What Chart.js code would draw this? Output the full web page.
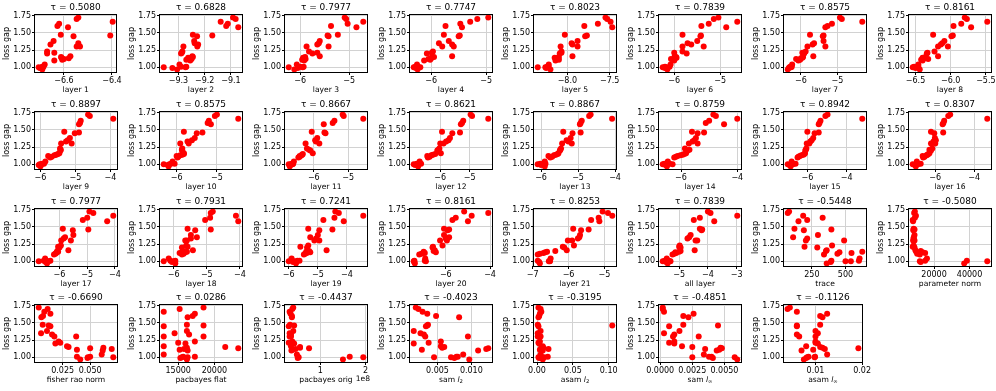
<!DOCTYPE html>
<html>
<head>
<meta charset="utf-8">
<script src="https://cdn.jsdelivr.net/npm/chart.js@4.4.0/dist/chart.umd.min.js"></script>
<style>
  html, body { margin: 0; padding: 0; background: #fff; }
  #wrap { position: relative; width: 996px; height: 391px; overflow: hidden; }
  #wrap canvas { position: absolute; }
</style>
</head>
<body>
<div id="wrap"></div>
<script>
// loss gap of each trained model (same models in every panel, same order)
const lossGap = [0.97, 0.99, 1.00, 1.00, 1.01, 1.01, 1.04, 1.10, 1.11, 1.12, 1.13, 1.14, 1.15, 1.16, 1.20, 1.21, 1.23, 1.30, 1.30, 1.33, 1.35, 1.38, 1.45, 1.46, 1.47, 1.58, 1.60, 1.63, 1.66, 1.70, 1.72];

// measure values, one per model
const layer1 = [-6.69, -6.70, -6.705, -6.69, -6.69, -6.685, -6.68, -6.64, -6.607, -6.60, -6.58, -6.61, -6.612, -6.573, -6.67, -6.64, -6.67, -6.533, -6.547, -6.656, -6.54, -6.643, -6.56, -6.407, -6.613, -6.583, -6.627, -6.62, -6.397, -6.547, -6.54];
const layer2 = [-9.305, -9.323, -9.356, -9.273, -9.27, -9.29, -9.296, -9.255, -9.27, -9.25, -9.26, -9.263, -9.245, -9.247, -9.29, -9.287, -9.285, -9.281, -9.228, -9.225, -9.238, -9.24, -9.229, -9.171, -9.245, -9.072, -9.118, -9.112, -9.139, -9.082, -9.092];
const layer3 = [-6.12, -6.05, -6.235, -5.95, -6.0, -5.93, -6.07, -5.92, -5.96, -5.89, -5.93, -5.94, -5.9, -5.6, -5.75, -5.65, -5.82, -5.87, -5.42, -5.65, -5.62, -5.6, -5.42, -5.44, -5.23, -4.85, -5.37, -5.03, -4.71, -5.06, -5.09];
const layer4 = [-6.25, -6.28, -6.32, -6.2, -6.29, -6.24, -6.26, -6.13, -6.02, -6.05, -6.0, -6.0, -5.95, -5.62, -6.08, -5.99, -5.97, -5.8, -5.59, -5.62, -5.86, -5.68, -5.5, -5.48, -5.77, -5.44, -5.74, -5.47, -5.29, -5.16, -4.96];
const layer5 = [-8.2, -8.25, -8.35, -8.26, -8.24, -8.22, -8.22, -8.14, -8.1, -8.12, -8.13, -8.15, -8.1, -7.94, -8.09, -8.07, -8.07, -8.08, -7.88, -7.94, -7.95, -7.88, -7.79, -7.77, -8.03, -7.47, -7.8, -7.64, -7.49, -7.53, -7.55];
const layer6 = [-6.15, -6.2, -6.25, -6.18, -6.1, -6.2, -6.08, -6.0, -6.03, -6.07, -5.98, -5.95, -5.96, -5.99, -5.73, -6.0, -5.82, -5.82, -5.36, -5.63, -5.71, -5.5, -5.43, -5.42, -5.82, -4.87, -5.41, -5.25, -4.63, -5.14, -5.04];
const layer7 = [-6.36, -6.33, -6.31, -6.27, -6.29, -6.25, -6.24, -6.07, -6.02, -6.13, -6.0, -5.96, -5.94, -5.66, -5.91, -5.96, -5.87, -5.82, -5.33, -5.68, -5.64, -5.38, -5.4, -5.38, -5.75, -5.33, -5.27, -5.15, -4.32, -4.88, -4.93];
const layer8 = [-6.44, -6.5, -6.54, -6.48, -6.52, -6.46, -6.46, -6.4, -6.42, -6.32, -6.36, -6.4, -6.36, -6.18, -6.34, -6.33, -6.23, -6.18, -6.04, -6.14, -6.12, -6.09, -5.99, -5.97, -6.25, -5.71, -5.96, -5.85, -5.48, -5.77, -5.8];
const layer9 = [-6.0, -6.05, -6.02, -5.98, -5.95, -5.9, -5.86, -5.72, -5.68, -5.78, -5.6, -5.55, -5.5, -5.46, -5.43, -5.42, -5.44, -5.41, -5.11, -5.27, -5.22, -5.16, -5.02, -4.9, -5.32, -4.9, -4.87, -4.85, -3.92, -4.59, -4.64];
const layer10 = [-6.2, -6.22, -6.32, -6.18, -6.14, -6.05, -6.1, -5.98, -5.96, -6.0, -5.91, -5.86, -5.82, -5.82, -5.86, -5.87, -5.86, -5.91, -5.7, -5.73, -5.62, -5.55, -5.5, -5.36, -5.82, -5.15, -5.23, -5.2, -4.47, -5.05, -5.0];
const layer11 = [-6.7, -6.68, -6.73, -6.62, -6.65, -6.6, -6.58, -6.45, -6.41, -6.41, -6.36, -6.34, -6.32, -6.03, -6.1, -6.14, -6.2, -6.24, -5.84, -5.94, -5.96, -5.9, -5.66, -5.69, -6.06, -5.71, -5.45, -5.4, -4.56, -5.13, -5.16];
const layer12 = [-6.75, -6.85, -6.9, -6.75, -6.8, -6.65, -6.7, -6.42, -6.36, -6.44, -6.3, -6.25, -6.17, -5.98, -6.1, -6.06, -6.03, -6.0, -5.89, -5.8, -5.72, -5.67, -5.59, -5.33, -5.94, -5.3, -5.26, -5.22, -4.37, -4.92, -4.97];
const layer13 = [-5.9, -6.0, -6.09, -5.95, -6.02, -5.88, -5.9, -5.75, -5.7, -5.8, -5.65, -5.6, -5.55, -5.53, -5.49, -5.48, -5.46, -5.43, -5.17, -5.26, -5.31, -5.2, -5.15, -4.93, -5.4, -4.95, -4.93, -4.9, -4.08, -4.7, -4.66];
const layer14 = [-6.5, -6.55, -6.65, -6.3, -6.59, -6.4, -6.47, -6.24, -6.18, -6.12, -6.02, -5.94, -5.88, -5.82, -5.76, -5.7, -5.86, -5.72, -5.41, -5.59, -5.53, -5.47, -5.41, -5.18, -5.61, -4.47, -5.12, -5.0, -4.0, -4.76, -4.85];
const layer15 = [-6.85, -6.9, -7.0, -6.75, -6.6, -6.7, -6.8, -6.5, -6.45, -6.38, -6.3, -6.2, -6.15, -6.12, -6.1, -6.08, -6.05, -6.03, -5.9, -5.85, -5.78, -5.7, -5.63, -5.42, -6.0, -5.42, -5.38, -5.33, -3.2, -5.08, -4.97];
const layer16 = [-7.0, -7.05, -7.16, -6.9, -6.75, -6.85, -6.95, -6.62, -6.55, -6.65, -6.45, -6.4, -6.35, -6.3, -6.22, -6.3, -6.15, -6.22, -6.0, -6.09, -5.97, -6.02, -6.05, -5.59, -6.22, -5.62, -5.58, -5.54, -3.32, -5.33, -5.23];
const layer17 = [-6.45, -6.5, -6.75, -6.4, -6.57, -6.33, -6.52, -6.2, -6.15, -6.12, -6.1, -6.05, -6.08, -5.68, -6.0, -6.05, -5.95, -5.94, -5.59, -5.85, -5.8, -5.5, -5.52, -4.96, -5.88, -4.28, -5.16, -5.0, -4.06, -4.78, -4.92];
const layer18 = [-5.95, -6.05, -6.3, -6.0, -6.1, -5.95, -6.15, -5.75, -5.7, -5.82, -5.65, -5.6, -5.72, -5.42, -5.75, -5.58, -5.62, -5.65, -5.6, -5.48, -5.3, -5.48, -5.35, -4.88, -5.58, -4.05, -5.05, -4.9, -4.12, -4.88, -4.82];
const layer19 = [-5.75, -5.85, -6.0, -5.8, -5.7, -5.63, -5.9, -5.48, -5.44, -5.38, -5.26, -5.4, -5.3, -4.7, -5.37, -5.6, -5.33, -5.12, -4.95, -5.06, -5.26, -5.0, -4.95, -4.5, -5.33, -4.11, -4.81, -4.43, -3.44, -4.28, -4.4];
const layer20 = [-7.4, -7.42, -7.45, -6.9, -7.42, -6.95, -6.93, -7.2, -7.1, -6.95, -6.45, -7.0, -6.55, -6.5, -6.6, -6.58, -6.15, -6.26, -5.95, -6.0, -5.85, -6.08, -5.92, -5.85, -6.08, -5.0, -5.7, -5.55, -4.83, -4.08, -5.17];
const layer21 = [-6.8, -6.82, -6.55, -6.52, -6.86, -6.52, -6.5, -6.86, -6.8, -6.7, -6.65, -6.6, -6.37, -6.05, -6.12, -6.16, -5.85, -6.02, -5.9, -5.74, -5.7, -5.68, -5.65, -5.44, -5.87, -5.14, -5.37, -5.16, -4.78, -4.9, -5.05];
const allLayer = [-5.4, -5.45, -5.57, -5.3, -5.5, -5.35, -5.43, -5.23, -5.17, -5.1, -5.13, -5.0, -4.95, -4.46, -4.95, -5.0, -4.98, -4.43, -4.37, -4.71, -4.65, -4.6, -4.22, -4.2, -4.28, -3.78, -4.49, -4.28, -2.98, -3.91, -4.0];
const trace = [360, 390, 540, 500, 600, 395, 605, 340, 440, 545, 455, 625, 355, 360, 290, 195, 400, 205, 490, 215, 110, 295, 190, 395, 120, 150, 215, 330, 185, 70, 80];
const paramNorm = [37000, 12500, 50000, 12000, 38500, 15000, 16000, 12000, 10500, 15000, 13500, 10000, 12500, 9500, 9000, 8000, 8500, 9000, 8200, 8500, 8600, 9000, 8300, 9000, 8500, 8200, 8000, 9200, 9800, 8800, 9200];
const fisherRao = [0.041, 0.0476, 0.071, 0.048, 0.038, 0.05, 0.0605, 0.0614, 0.038, 0.0696, 0.05, 0.062, 0.0304, 0.029, 0.0184, 0.0229, 0.0214, 0.0373, 0.0175, 0.0154, 0.0054, 0.0108, 0.0139, 0.0123, 0.0069, 0.0057, 0.0072, 0.0139, 0.0084, 0.0114, 0.0033];
const pacbayesFlat = [16200, 15300, 15500, 16300, 17300, 15700, 13000, 16300, 15200, 15800, 23300, 16200, 21500, 13000, 16000, 15000, 17300, 13000, 18500, 16500, 14500, 16200, 13000, 18500, 16200, 16300, 17000, 17300, 13000, 15200, 18500];
const pacbayesOrig = [1.5, 0.5, 1.95, 0.52, 1.65, 0.5, 0.48, 0.36, 0.38, 0.45, 0.75, 0.55, 0.55, 0.35, 0.42, 0.3, 0.38, 0.35, 0.32, 0.35, 0.32, 0.4, 0.3, 0.42, 0.33, 0.37, 0.37, 0.34, 0.32, 0.38, 0.4]; // x 1e8
const samL2 = [0.0097, 0.0075, 0.0045, 0.007, 0.008, 0.0078, 0.0088, 0.011, 0.0027, 0.0122, 0.0125, 0.0057, 0.006, 0.0055, 0.0015, 0.0037, 0.0055, 0.0032, 0.0095, 0.003, 0.0025, 0.0015, 0.0033, 0.0035, 0.0036, 0.0082, 0.0048, 0.0035, 0.0028, 0.0022, 0.0018];
const asamL2 = [0.008, 0.003, 0.002, 0.01, 0.015, 0.006, 0.005, 0.008, 0.004, 0.016, 0.007, 0.009, 0.006, 0.008, 0.003, 0.002, 0.004, 0.001, 0.005, 0.002, 0.001, 0.005, 0.002, 0.105, 0.001, 0.002, 0.003, 0.004, 0.006, 0.005, 0.002];
const samLinf = [0.006, 0.0041, 0.0025, 0.0058, 0.0038, 0.004, 0.0034, 0.0044, 0.0046, 0.0035, 0.0048, 0.0047, 0.0025, 0.0017, 0.0011, 0.0007, 0.0011, 0.001, 0.003, 0.0011, 0.0003, 0.0015, 0.0007, 0.0045, 0.0018, 0.0022, 0.0018, 0.0026, 0.0003, 0.0002, 0.0002];
const asamLinf = [0.0075, 0.008, 0.0098, 0.0082, 0.0099, 0.0085, 0.0125, 0.007, 0.0095, 0.012, 0.0192, 0.0115, 0.011, 0.008, 0.0105, 0.01, 0.01, 0.0065, 0.01, 0.006, 0.0105, 0.01, 0.006, 0.006, 0.011, 0.0115, 0.011, 0.0125, 0.006, 0.004, 0.0045];

// kendall tau shown in each title
const taus = ['0.5080', '0.6828', '0.7977', '0.7747', '0.8023', '0.7839', '0.8575', '0.8161',
  '0.8897', '0.8575', '0.8667', '0.8621', '0.8867', '0.8759', '0.8942', '0.8307',
  '0.7977', '0.7931', '0.7241', '0.8161', '0.8253', '0.7839', '-0.5448', '-0.5080',
  '-0.6690', '0.0286', '-0.4437', '-0.4023', '-0.3195', '-0.4851', '-0.1126'];

const yTicks = ['1.00', '1.25', '1.50', '1.75'];

const panels = [
  { x: layer1, name: 'layer 1', ticks: ['−6.6', '−6.4'] },
  { x: layer2, name: 'layer 2', ticks: ['−9.3', '−9.2', '−9.1'] },
  { x: layer3, name: 'layer 3', ticks: ['−6', '−5'] },
  { x: layer4, name: 'layer 4', ticks: ['−6', '−5'] },
  { x: layer5, name: 'layer 5', ticks: ['−8.0', '−7.5'] },
  { x: layer6, name: 'layer 6', ticks: ['−6', '−5'] },
  { x: layer7, name: 'layer 7', ticks: ['−6', '−5'] },
  { x: layer8, name: 'layer 8', ticks: ['−6.5', '−6.0', '−5.5'] },
  { x: layer9, name: 'layer 9', ticks: ['−6', '−5', '−4'] },
  { x: layer10, name: 'layer 10', ticks: ['−6', '−5'] },
  { x: layer11, name: 'layer 11', ticks: ['−6', '−5'] },
  { x: layer12, name: 'layer 12', ticks: ['−6', '−5'] },
  { x: layer13, name: 'layer 13', ticks: ['−6', '−5', '−4'] },
  { x: layer14, name: 'layer 14', ticks: ['−6', '−4'] },
  { x: layer15, name: 'layer 15', ticks: ['−6', '−4'] },
  { x: layer16, name: 'layer 16', ticks: ['−6', '−4'] },
  { x: layer17, name: 'layer 17', ticks: ['−6', '−5', '−4'] },
  { x: layer18, name: 'layer 18', ticks: ['−6', '−5', '−4'] },
  { x: layer19, name: 'layer 19', ticks: ['−6', '−5', '−4'] },
  { x: layer20, name: 'layer 20', ticks: ['−6', '−4'] },
  { x: layer21, name: 'layer 21', ticks: ['−7', '−6', '−5'] },
  { x: allLayer, name: 'all layer', ticks: ['−5', '−4', '−3'] },
  { x: trace, name: 'trace', ticks: ['250', '500'] },
  { x: paramNorm, name: 'parameter norm', ticks: ['20000', '40000'] },
  { x: fisherRao, name: 'fisher rao norm', ticks: ['0.025', '0.050'] },
  { x: pacbayesFlat, name: 'pacbayes flat', ticks: ['15000', '20000'] },
  { x: pacbayesOrig, name: 'pacbayes orig', ticks: ['1', '2'], offset: '1e8' },
  { x: samL2, name: 'sam ', math: 'l', sub: '2', ticks: ['0.005', '0.010'] },
  { x: asamL2, name: 'asam ', math: 'l', sub: '2', ticks: ['0.00', '0.05', '0.10'] },
  { x: samLinf, name: 'sam ', math: 'l', sub: '∞', ticks: ['0.0000', '0.0025', '0.0050'] },
  { x: asamLinf, name: 'asam ', math: 'l', sub: '∞', ticks: ['0.01', '0.02'] },
];

const FONT = "'DejaVu Sans', sans-serif";
const toNum = (s) => Number(s.replace('−', '-'));

// matplotlib style autoscale: data range plus 5% each side
const padRange = (vals) => {
  const lo = Math.min(...vals), hi = Math.max(...vals);
  const m = (hi - lo) * 0.05;
  return [lo - m, hi + m];
};

// box, title and x label drawn like the matplotlib axes
const axesDeco = {
  id: 'axesDeco',
  afterDraw(chart, args, opts) {
    const { ctx, chartArea: a } = chart;
    ctx.save();
    ctx.strokeStyle = '#000';
    ctx.lineWidth = 1;
    ctx.strokeRect(Math.round(a.left) - 0.5, Math.round(a.top) - 0.5, Math.round(a.right - a.left) + 1, Math.round(a.bottom - a.top) + 1);

    ctx.fillStyle = '#000';
    ctx.textBaseline = 'middle';
    ctx.textAlign = 'center';
    ctx.font = `9px ${FONT}`;
    ctx.fillText('τ = ' + opts.tau, (a.left + a.right) / 2, a.top - 7);

    // x label with optional math part
    const p = opts.panel;
    const parts = [{ t: p.name, f: `7.6px ${FONT}`, dy: 0 }];
    if (p.math) parts.push({ t: p.math, f: `italic 7.6px ${FONT}`, dy: 0 });
    if (p.sub) parts.push({ t: p.sub, f: `5.3px ${FONT}`, dy: 2 });
    let w = 0;
    parts.forEach((q) => { ctx.font = q.f; q.w = ctx.measureText(q.t).width; w += q.w; });
    let x = (a.left + a.right) / 2 - w / 2;
    const y = a.bottom + 18;
    ctx.textAlign = 'left';
    parts.forEach((q) => { ctx.font = q.f; ctx.fillText(q.t, x, y + q.dy); x += q.w; });

    if (p.offset) {
      ctx.font = `7.6px ${FONT}`;
      ctx.textAlign = 'right';
      ctx.fillText(p.offset, a.right + 3, y - 1);
    }
    ctx.restore();
  },
};

const wrap = document.getElementById('wrap');
const yRange = padRange(lossGap);

panels.forEach((p, i) => {
  const col = i % 8, row = Math.floor(i / 8);
  const boxLeft = 35 + col * 124.86;
  const boxTop = 15 + row * 96.8;

  const canvas = document.createElement('canvas');
  canvas.width = 124;
  canvas.height = 100;
  canvas.style.left = Math.round(boxLeft - 36) + 'px';
  canvas.style.top = Math.round(boxTop - 15) + 'px';
  wrap.appendChild(canvas);

  const xRange = padRange(p.x);
  const xTickVals = p.ticks.map(toNum);

  new Chart(canvas, {
    type: 'scatter',
    data: {
      datasets: [{
        data: p.x.map((v, k) => ({ x: v, y: lossGap[k] })),
        backgroundColor: '#ff0000',
        borderWidth: 0,
        pointRadius: 3,
      }],
    },
    options: {
      responsive: false,
      animation: false,
      events: [],
      layout: { padding: { top: 15, right: 6, left: 0, bottom: 0 } },
      plugins: {
        legend: { display: false },
        tooltip: { enabled: false },
        axesDeco: { tau: taus[i], panel: p },
      },
      scales: {
        x: {
          type: 'linear',
          min: xRange[0],
          max: xRange[1],
          afterBuildTicks: (s) => { s.ticks = xTickVals.map((v) => ({ value: v })); },
          afterFit: (s) => { s.height = 28; },
          border: { display: false },
          grid: { color: '#d2d2d2', lineWidth: 1, drawTicks: true, tickLength: 3, tickColor: '#000' },
          ticks: {
            autoSkip: false, maxRotation: 0, padding: 1, color: '#000',
            font: { family: FONT, size: 8 },
            callback: (v, k) => p.ticks[k],
          },
        },
        y: {
          type: 'linear',
          min: yRange[0],
          max: yRange[1],
          afterBuildTicks: (s) => { s.ticks = yTicks.map((t) => ({ value: Number(t) })); },
          afterFit: (s) => { s.width = 36; },
          border: { display: false },
          grid: { color: '#d2d2d2', lineWidth: 1, drawTicks: true, tickLength: 3, tickColor: '#000' },
          title: { display: true, text: 'loss gap', color: '#000', font: { family: FONT, size: 8 }, padding: { top: 3, bottom: 0 } },
          ticks: {
            autoSkip: false, padding: 1, color: '#000',
            font: { family: FONT, size: 8 },
            callback: (v, k) => yTicks[k],
          },
        },
      },
    },
    plugins: [axesDeco],
  });
});
</script>
</body>
</html>
